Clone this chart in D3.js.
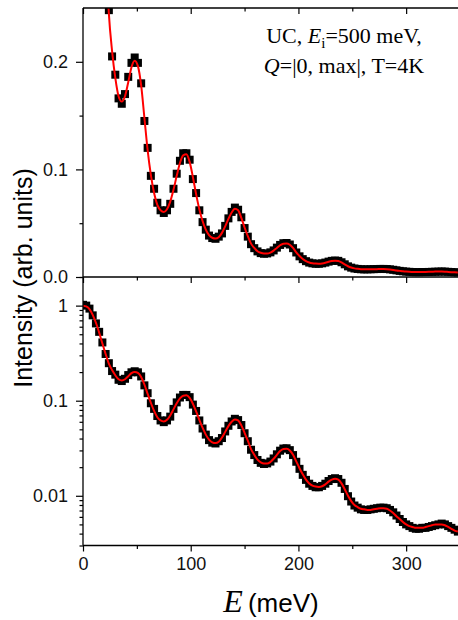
<!DOCTYPE html>
<meta charset='utf-8'>
<html>
  <head>
    <script src="https://cdn.jsdelivr.net/npm/d3@7"></script>
    <style>
      body { margin: 0; background: #fff; }
      svg { display: block; }
    </style>
  </head>
  <body>
    <div id="chart"></div>
    <script>
        // energy transfer (meV)
        var energy = [0,3,6,9,12,15,18,21,24,27,30,33,36,39,42,45,48,51,54,57,60,63,66,69,72,75,78,81,84,87,
            90,93,96,99,102,105,108,111,114,117,120,123,126,129,132,135,138,141,144,147,150,153,156,159,162,165,168,171,174,177,
            180,183,186,189,192,195,198,201,204,207,210,213,216,219,222,225,228,231,234,237,240,243,246,249,252,255,258,261,264,267,
            270,273,276,279,282,285,288,291,294,297,300,303,306,309,312,315,318,321,324,327,330,333,336,339,342,345,348]
        // measured intensity (black squares)
        var intensity = [1.02,1.00,0.93,0.79,0.65,0.53,0.41,0.31,0.248,0.205,0.188,0.166,0.161,0.170,0.186,0.199,0.204,0.199,0.180,0.145,
            0.120,0.094,0.082,0.069,0.062,0.0595,0.062,0.068,0.082,0.096,0.108,0.115,0.115,0.109,0.091,0.078,0.062,0.051,0.044,0.0385,
            0.0362,0.0355,0.0375,0.0405,0.0475,0.0545,0.0605,0.0645,0.0625,0.0555,0.0455,0.0375,0.0305,0.0268,0.0238,0.0222,0.0216,0.0219,0.0229,0.0247,
            0.0273,0.0298,0.0314,0.0316,0.0302,0.0268,0.0228,0.0192,0.0166,0.0147,0.0134,0.0127,0.0123,0.0123,0.0127,0.0134,0.0143,0.0150,0.0153,0.0150,
            0.0137,0.0118,0.0099,0.0087,0.0079,0.0075,0.0072,0.0071,0.0071,0.0072,0.0073,0.0074,0.0075,0.0075,0.0074,0.0071,0.0067,0.0062,0.0057,0.0053,
            0.0050,0.0048,0.0046,0.0045,0.0045,0.0046,0.0046,0.0047,0.0048,0.0049,0.0050,0.0051,0.0050,0.0048,0.0046,0.0044,0.0042]
        // fit (red line)
        var fit = [1.00,0.98,0.92,0.80,0.66,0.52,0.40,0.31,0.245,0.21,0.185,0.168,0.163,0.168,0.181,0.195,0.201,0.196,0.178,0.148,
            0.118,0.095,0.078,0.067,0.062,0.0605,0.063,0.070,0.081,0.094,0.106,0.113,0.114,0.107,0.093,0.077,0.063,0.052,0.044,0.039,
            0.0365,0.0358,0.037,0.041,0.047,0.054,0.060,0.0635,0.062,0.055,0.046,0.038,0.031,0.027,0.024,0.0225,0.0218,0.0218,0.0227,0.0245,
            0.027,0.0295,0.031,0.0312,0.030,0.027,0.023,0.0195,0.0168,0.0148,0.0135,0.0128,0.0125,0.0124,0.0126,0.0132,0.0141,0.0148,0.0151,0.0148,
            0.0135,0.0117,0.0100,0.0088,0.0080,0.0076,0.0073,0.0072,0.0071,0.0071,0.0072,0.0073,0.0074,0.0074,0.0073,0.0070,0.0066,0.0061,0.0057,0.0053,
            0.0050,0.0048,0.0047,0.0046,0.0046,0.0046,0.0047,0.0048,0.0049,0.0050,0.0050,0.0050,0.0049,0.0047,0.0045,0.0043,0.0042]

        var xTicks = [0,100,200,300]
        var xMinor = [50,150,250,350]
        var linTicks = [0,0.1,0.2]
        var linLabels = ["0.0","0.1","0.2"]
        var linMinor = [0.05,0.15]
        var logTicks = [0.01,0.1,1]
        var logLabels = ["0.01","0.1","1"]
        var logMinor = [0.003,0.004,0.005,0.006,0.007,0.008,0.009,0.02,0.03,0.04,0.05,0.06,0.07,0.08,0.09,0.2,0.3,0.4,0.5,0.6,0.7,0.8,0.9,2]

        var w = 458, h = 620
        // plot box (top panel and bottom panel share the middle line)
        var pLeft = 83, pRight = 460, pTop = 8, pMid = 277, pBottom = 545.5

        var data = energy.map(function (e, i) { return { E: e, I: intensity[i], F: fit[i] } })

        // scales
        var xScale = d3.scaleLinear().domain([0,350]).range([pLeft,pRight])
        var yTop = d3.scaleLinear().domain([0,0.25]).range([pMid,pTop])
        var yBot = d3.scaleLog().domain([0.003,2]).range([pBottom,pMid])

        var svg = d3.select('#chart').append('svg')
            .attr('width',w)
            .attr('height',h)
            .style('font-family','"Liberation Sans", Arial, sans-serif')

        var defs = svg.append('defs')
        defs.append('clipPath').attr('id','clipTop')
            .append('rect').attr('x',pLeft).attr('y',pTop).attr('width',pRight-pLeft).attr('height',pMid-pTop)
        defs.append('clipPath').attr('id','clipBot')
            .append('rect').attr('x',pLeft).attr('y',pMid).attr('width',pRight-pLeft).attr('height',pBottom-pMid)

        function panel(yScale, clip) {
            var g = svg.append('g').attr('clip-path','url(#' + clip + ')')
            g.selectAll('rect')
                .data(data)
                .enter()
                .append('rect')
                .attr('x',function (d) { return xScale(d.E) - 4 })
                .attr('y',function (d) { return yScale(d.I) - 4 })
                .attr('width',8)
                .attr('height',8)
                .attr('fill','#000')
            var line = d3.line()
                .curve(d3.curveMonotoneX)
                .x(function (d) { return xScale(d.E) })
                .y(function (d) { return yScale(d.F) })
            g.append('path')
                .datum(data)
                .attr('d',line)
                .attr('fill','none')
                .attr('stroke','#ff0000')
                .attr('stroke-width',2)
        }
        panel(yTop,'clipTop')
        panel(yBot,'clipBot')

        // helper: draw an axis with given ticks, then strip the domain path
        function drawAxis(axis, transform) {
            var g = svg.append('g')
                .attr('transform',transform)
                .call(axis)
            g.select('.domain').remove()
            g.selectAll('line').attr('stroke','#000').attr('stroke-width',1.2)
            g.selectAll('text').style('font-size','18px').attr('fill','#111')
            return g
        }

        // x axes
        drawAxis(d3.axisBottom(xScale).tickValues(xTicks).tickSize(6).tickPadding(6).tickFormat(d3.format('d')),'translate(0,' + pBottom + ')')
        drawAxis(d3.axisBottom(xScale).tickValues(xMinor).tickSize(3.5).tickFormat(''),'translate(0,' + pBottom + ')')
        drawAxis(d3.axisBottom(xScale).tickValues(xTicks).tickSize(6).tickFormat(''),'translate(0,' + pMid + ')')
        drawAxis(d3.axisBottom(xScale).tickValues(xMinor).tickSize(3.5).tickFormat(''),'translate(0,' + pMid + ')')
        drawAxis(d3.axisBottom(xScale).tickValues(xTicks).tickSize(6).tickFormat(''),'translate(0,' + pTop + ')')
        drawAxis(d3.axisBottom(xScale).tickValues(xMinor).tickSize(3.5).tickFormat(''),'translate(0,' + pTop + ')')

        // y axes, top panel
        drawAxis(d3.axisLeft(yTop).tickValues(linTicks).tickSize(7).tickPadding(8).tickFormat(function (d,i) { return linLabels[i] }),'translate(' + pLeft + ',0)')
        drawAxis(d3.axisLeft(yTop).tickValues(linMinor).tickSize(3.5).tickFormat(''),'translate(' + pLeft + ',0)')
        drawAxis(d3.axisLeft(yTop).tickValues(linTicks).tickSize(-6).tickFormat(''),'translate(' + pRight + ',0)')
        drawAxis(d3.axisLeft(yTop).tickValues(linMinor).tickSize(-3.5).tickFormat(''),'translate(' + pRight + ',0)')

        // y axes, bottom panel (log)
        drawAxis(d3.axisLeft(yBot).tickValues(logTicks).tickSize(7).tickPadding(8).tickFormat(function (d,i) { return logLabels[i] }),'translate(' + pLeft + ',0)')
        drawAxis(d3.axisLeft(yBot).tickValues(logMinor).tickSize(3.5).tickFormat(''),'translate(' + pLeft + ',0)')
        drawAxis(d3.axisLeft(yBot).tickValues(logTicks).tickSize(-6).tickFormat(''),'translate(' + pRight + ',0)')
        drawAxis(d3.axisLeft(yBot).tickValues(logMinor).tickSize(-3.5).tickFormat(''),'translate(' + pRight + ',0)')

        // frame
        var frame = svg.append('g').attr('stroke','#000').attr('stroke-width',1.3)
        frame.append('line').attr('x1',pLeft).attr('x2',pRight).attr('y1',pTop).attr('y2',pTop)
        frame.append('line').attr('x1',pLeft).attr('x2',pRight).attr('y1',pMid).attr('y2',pMid)
        frame.append('line').attr('x1',pLeft).attr('x2',pRight).attr('y1',pBottom).attr('y2',pBottom)
        frame.append('line').attr('x1',pLeft).attr('x2',pLeft).attr('y1',pTop).attr('y2',pBottom)
        frame.append('line').attr('x1',pRight).attr('x2',pRight).attr('y1',pTop).attr('y2',pBottom)

        // axis labels
        svg.append('text')
            .attr('transform','translate(32,278) rotate(-90)')
            .attr('text-anchor','middle')
            .style('font-size','25px')
            .attr('fill','#000')
            .text('Intensity (arb. units)')

        var xl = svg.append('text')
            .attr('x',271)
            .attr('y',612)
            .attr('text-anchor','middle')
            .attr('fill','#000')
        xl.append('tspan')
            .style('font-family','"Liberation Serif", "Times New Roman", serif')
            .style('font-style','italic')
            .style('font-size','32px')
            .text('E')
        xl.append('tspan')
            .attr('dx',5)
            .style('font-size','26px')
            .text('(meV)')

        // annotation
        var serif = '"Liberation Serif", "Times New Roman", serif'
        var t1 = svg.append('text')
            .attr('x',344).attr('y',43)
            .attr('text-anchor','middle')
            .style('font-family',serif)
            .style('font-size','22px')
            .attr('fill','#000')
        t1.append('tspan').text('UC, ')
        t1.append('tspan').style('font-style','italic').text('E')
        t1.append('tspan').attr('dy',5).style('font-size','15px').text('i')
        t1.append('tspan').attr('dy',-5).text('=500 meV,')

        var t2 = svg.append('text')
            .attr('x',344).attr('y',73)
            .attr('text-anchor','middle')
            .style('font-family',serif)
            .style('font-size','22px')
            .attr('fill','#000')
        t2.append('tspan').style('font-style','italic').text('Q')
        t2.append('tspan').text('=|0, max|, T=4K')
    </script>
  </body>
</html>
